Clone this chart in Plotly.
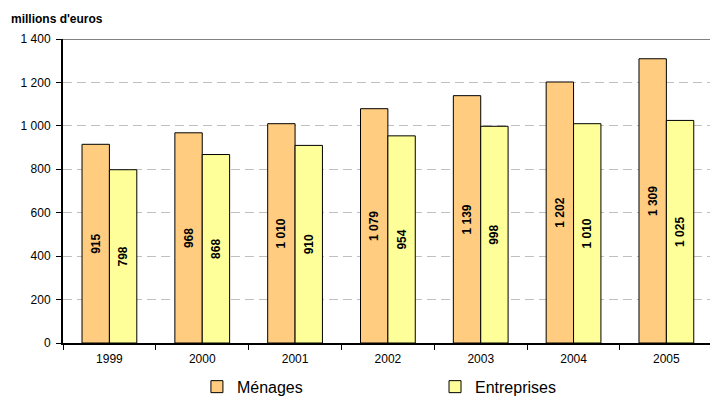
import plotly.graph_objects as go

years = ["1999", "2000", "2001", "2002", "2003", "2004", "2005"]
menages = [915, 968, 1010, 1079, 1139, 1202, 1309]
entreprises = [798, 868, 910, 954, 998, 1010, 1025]
y_ticks = [0, 200, 400, 600, 800, 1000, 1200, 1400]

FONT = "Liberation Sans, Arial, sans-serif"

fig = go.Figure()
fig.add_trace(go.Bar(
    x=years, y=menages, name="Ménages", legend="legend",
    marker=dict(color="#FFCC80", line=dict(color="black", width=1)),
    texttemplate="<b>%{y:,}</b>", textposition="inside", textangle=-90,
    insidetextanchor="middle", constraintext="none",
    textfont=dict(family=FONT, size=12, color="black"),
))
fig.add_trace(go.Bar(
    x=years, y=entreprises, name="Entreprises", legend="legend2",
    marker=dict(color="#FFFF99", line=dict(color="black", width=1)),
    texttemplate="<b>%{y:,}</b>", textposition="inside", textangle=-90,
    insidetextanchor="middle", constraintext="none",
    textfont=dict(family=FONT, size=12, color="black"),
))

fig.add_shape(type="line", xref="paper", yref="y", x0=0, x1=1, y0=1400, y1=1400,
              line=dict(color="#808080", width=2))

leg_common = dict(orientation="h", yanchor="top", y=-0.088, xanchor="left",
                  font=dict(size=16, family=FONT), bgcolor="rgba(0,0,0,0)",
                  borderwidth=0)

fig.update_layout(
    width=710, height=397,
    margin=dict(l=63, r=0, t=39, b=54, autoexpand=False),
    paper_bgcolor="white", plot_bgcolor="white",
    separators=", ",
    barmode="group", bargap=0.41, bargroupgap=0,
    font=dict(family=FONT, size=12, color="black"),
    showlegend=True,
    legend=dict(x=0.207, **leg_common),
    legend2=dict(x=0.575, **leg_common),
    annotations=[dict(text="<b>millions d'euros</b>", xref="paper", yref="paper",
                      x=-0.084, y=1.035, xanchor="left", yanchor="bottom", showarrow=False,
                      font=dict(size=12, family=FONT))],
)
fig.update_xaxes(
    range=[-0.5, 6.47], showline=True, linecolor="black", linewidth=2,
    ticks="outside", tickson="boundaries", ticklen=5, tickcolor="black", tickwidth=1,
    showgrid=False, tickfont=dict(size=12, family=FONT), ticklabelstandoff=4,
    fixedrange=True,
)
fig.update_yaxes(
    range=[0, 1400], tickvals=y_ticks, tickformat=",", showline=True, linecolor="black",
    linewidth=2, ticks="outside", ticklen=5, tickcolor="black",
    showgrid=True, gridcolor="#C0C0C0", griddash="9px,5px", gridwidth=1,
    zeroline=False, tickfont=dict(size=12, family=FONT), ticklabelstandoff=3,
)

fig.write_html("out.html")
